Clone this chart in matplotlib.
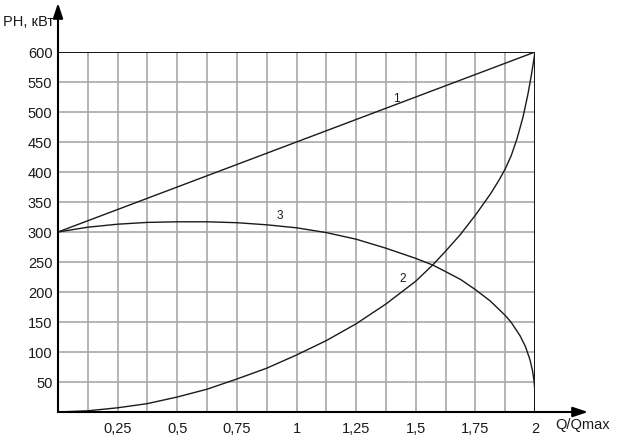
import matplotlib
matplotlib.use("Agg")
import matplotlib.pyplot as plt

plt.rcParams['font.family'] = ['Liberation Sans', 'DejaVu Sans']

# data
line1_x = [0.0, 2.0]
line1_y = [300, 600]

curve2_x = [0.0, 0.125, 0.25, 0.375, 0.5, 0.625, 0.75, 0.875, 1.0, 1.125,
            1.25, 1.375, 1.5, 1.571, 1.625, 1.6875, 1.75, 1.8125, 1.85,
            1.875, 1.9, 1.925, 1.95, 1.97, 1.985, 1.995, 2.0]
curve2_y = [0, 2, 7, 14, 25, 38, 55, 73, 95, 119,
            147, 180, 218, 245, 268, 296, 328, 363, 387,
            405, 427, 456, 492, 529, 562, 587, 600]

curve3_x = [0.0, 0.125, 0.25, 0.375, 0.5, 0.625, 0.75, 0.875, 1.0, 1.125,
            1.25, 1.375, 1.5, 1.571, 1.625, 1.6875, 1.75, 1.8125, 1.875, 1.9,
            1.9375, 1.96, 1.979, 1.99, 1.996, 1.999, 2.0]
curve3_y = [300, 308, 313, 316, 317, 317, 315.5, 312, 307, 299,
            288, 273, 256, 245, 234, 221, 204, 185, 161, 149.5,
            127, 109, 87, 68, 52, 37, 0]

xtick_vals = [0.25, 0.5, 0.75, 1.0, 1.25, 1.5, 1.75, 2.0]
xtick_labels = ["0,25", "0,5", "0,75", "1", "1,25", "1,5", "1,75", "2"]
ytick_vals = [50, 100, 150, 200, 250, 300, 350, 400, 450, 500, 550, 600]
xgrid = [0.125 * i for i in range(1, 16)]
ygrid = [50 * i for i in range(1, 12)]

W, H = 621, 447
fig = plt.figure(figsize=(W / 100, H / 100), dpi=100)
L, R, B, T = 58, 535, 412, 52
ax = fig.add_axes([L / W, (H - B) / H, (R - L) / W, (B - T) / H])
ax.set_xlim(0, 2)
ax.set_ylim(0, 600)

for gx in xgrid:
    ax.axvline(gx, color='#a8a8a8', lw=1.2, zorder=1)
for gy in ygrid:
    ax.axhline(gy, color='#a8a8a8', lw=1.2, zorder=1)
ax.axhline(600, color='black', lw=1.3, zorder=2)
ax.axvline(2, color='black', lw=1.3, zorder=2)

for s in ax.spines.values():
    s.set_visible(False)

ax.plot(line1_x, line1_y, color='#1a1a1a', lw=1.0, zorder=3)
ax.plot(curve2_x, curve2_y, color='#1a1a1a', lw=1.0, zorder=3)
ax.plot(curve3_x, curve3_y, color='#1a1a1a', lw=1.0, zorder=3)

ax.set_xticks(xtick_vals)
ax.set_xticklabels(xtick_labels)
ax.set_yticks(ytick_vals)
ax.set_yticklabels([str(v) for v in ytick_vals])
ax.tick_params(axis='both', length=0, labelsize=10.5, colors='#1a1a1a')
ax.tick_params(axis='x', pad=7)
ax.tick_params(axis='y', pad=4)

# axes with arrows
ax.annotate('', xy=(0, (B - 3) / (B - T)), xytext=(0, 0), xycoords='axes fraction',
            arrowprops=dict(arrowstyle='-|>,head_length=0.9,head_width=0.3', color='black', lw=1.5,
                            shrinkA=0, shrinkB=0), annotation_clip=False)
ax.annotate('', xy=((588 - L) / (R - L), 0), xytext=(0, 0), xycoords='axes fraction',
            arrowprops=dict(arrowstyle='-|>,head_length=0.9,head_width=0.3', color='black', lw=1.5,
                            shrinkA=0, shrinkB=0), annotation_clip=False)

fig.text(3 / W, 1 - 22 / H, "PH, кВт", fontsize=10.5, va='center', ha='left', color='#1a1a1a')
fig.text(555 / W, 1 - 425 / H, "Q/Qmax", fontsize=10.5, va='center', ha='left', color='#1a1a1a')

ax.text(1.42, 522, "1", fontsize=8.5, ha='center', va='center', color='#1a1a1a')
ax.text(0.93, 327, "3", fontsize=8.5, ha='center', va='center', color='#1a1a1a')
ax.text(1.445, 221, "2", fontsize=8.5, ha='center', va='center', color='#1a1a1a')

fig.savefig("out.png", dpi=100)
